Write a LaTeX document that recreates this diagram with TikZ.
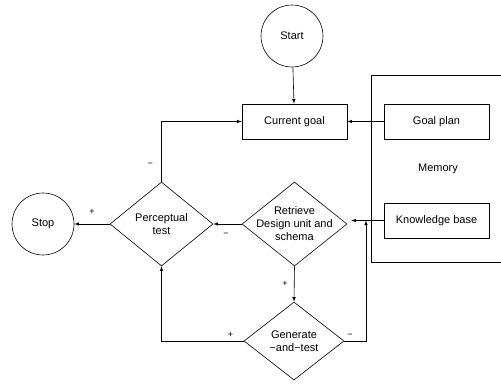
\documentclass[tikz,border=0pt]{standalone}
\usepackage{fontspec}
\setmainfont{Liberation Sans}
\usetikzlibrary{shapes.geometric}

\tikzset{
  box/.style={draw,rectangle,minimum width=105pt,minimum height=35pt,inner sep=0pt},
  dia/.style={draw,diamond,inner sep=0pt},
  circ/.style={draw,circle,minimum size=62pt,inner sep=0pt},
  txt/.style={align=center,inner sep=0pt},
  sgn/.style={font=\small}
}

\begin{document}
\begin{tikzpicture}[x=1pt,y=-1pt,>=latex,line width=0.6pt,font=\fontsize{11}{13}\selectfont]
\useasboundingbox (0,0) rectangle (501,384);
\clip (0,0) rectangle (501,384);
% nodes
\node[circ] (start) at (292,36) {Start};
\node[box] (goal) at (294.5,121.5) {Current goal};
\draw (505,75) rectangle (371,262);
\node (mem) at (438,169) {Memory};
\node[box] (plan) at (436.5,121.5) {Goal plan};
\node[box] (kb) at (436.5,220.5) {Knowledge base};
\node[dia,minimum width=105pt,minimum height=84pt] (retr) at (294.5,224) {};
\node[txt] at (retr) {Retrieve\\Design unit and\\schema};
\node[dia,minimum width=103pt,minimum height=84pt] (perc) at (161.5,224) {};
\node[txt] at (perc) {Perceptual\\test};
\node[circ] (stop) at (43,224) {Stop};
\node[dia,minimum width=100pt,minimum height=78pt] (gen) at (294,341) {};
\node[txt] at (gen) {Generate\\−and−test};
\coordinate (join) at (366,220.5);
% connectors
\draw[->] (start) -- (goal);
\draw[->] (plan) -- (goal);
\draw[->] (perc.north) |- node[pos=0.14,left=5pt,sgn] {−} (goal.west);
\draw[->] (kb.west) -- ([xshift=4pt]retr.east |- kb.west);
\draw[->] (retr.west) -- node[below=6pt,pos=0.55,sgn] {−} (perc.east);
\draw[->] (perc.west) -- node[above=6pt,sgn] {+} (stop.east);
\draw[->] (retr.south) -- node[left=3pt,sgn] {+} (gen.north);
\draw[->] (gen.west) -| node[pos=0.08,above,sgn] {+} (perc.south);
\draw[->] (gen.east) -| node[pos=0.13,above,sgn] {−} (join);
\end{tikzpicture}
\end{document}
